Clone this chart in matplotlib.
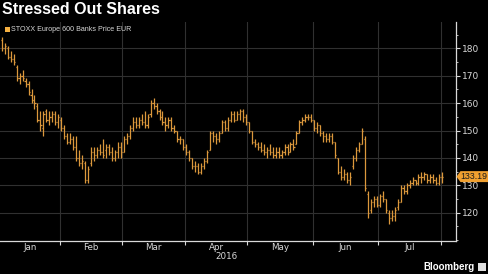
import matplotlib
matplotlib.use('Agg')
import matplotlib.pyplot as plt
import matplotlib.ticker as mticker
import numpy as np
import pandas as pd
from matplotlib.patches import Rectangle, Polygon
from matplotlib.transforms import blended_transform_factory

# ---- data ----
holidays = ['2016-03-25', '2016-03-28']
dates = pd.bdate_range('2016-01-04', '2016-08-01').drop(pd.to_datetime(holidays))

opens = [183,180,180,177,176, 173,169,170,168,167, 163,161,159,154,151, 157,154,155,156,153,
         154,151,148,146,147, 144,140,138,138,132, 138,142,141,143,142, 143,144,142,140,142, 144,
         142,147,148,151, 153,152,154,153,152, 156,160,159,157,155, 153,152,154,151, 150,147,147,
         144, 142,140,137,137,135, 137,139,143,149,148, 147,149,153,151,154, 156,154,156,157,155,
         153,150,146,145,144, 143,142,143,142,141, 142,141,142,144,142, 145,145,149,153,154, 155,155,
         154,151,152, 149,148,147,148,146, 140,135,133,134,132, 137,140,143,145,147, 127,121,124,125,
         123, 126,125,120,118,119, 122,124,129,128,130, 131,132,131,133,133, 134,132,133,132,131,
         133]
highs = [184,182,181,179,178, 174,171,172,169,168, 165,163,160,157,157, 158,157,157,157,156,
         155,152,149,149,148, 148,143,141,139,137, 144,144,144,145,147, 145,145,144,143,146, 146,
         148,149,152,155, 155,155,156,157,156, 161,162,160,158,157, 155,155,155,152, 150,148,147,
         145, 143,140,139,138,138, 140,143,150,150,149, 150,154,154,155,157, 157,157,158,158,156,
         153,150,147,146,146, 145,144,145,144,144, 144,143,145,145,146, 147,150,154,155,156, 156,156,
         154,153,152, 150,149,149,149,146, 140,137,136,135,135, 141,144,146,151,148, 128,125,126,126,
         127, 128,125,121,121,122, 125,130,130,131,132, 133,132,134,135,135, 134,134,134,133,134,
         135]
lows = [179,178,176,175,174, 168,167,168,166,163, 160,158,153,150,148, 153,152,153,152,151,
        150,147,145,145,143, 139,137,136,131,131, 137,139,140,141,140, 140,141,139,139,140, 140,
        142,145,147,150, 151,151,152,151,151, 155,158,156,154,152, 150,151,150,149, 146,145,143,
        141, 139,136,135,134,134, 136,138,143,146,145, 146,149,150,150,153, 153,154,154,153,152,
        149,145,144,143,142, 141,140,141,140,140, 140,140,141,141,142, 143,145,149,152,153, 154,153,
        150,149,148, 146,146,146,145,140, 134,132,132,131,130, 136,139,142,145,128, 118,120,122,122,
        122, 124,120,116,117,117, 121,124,127,127,129, 130,130,130,131,132, 131,131,131,130,130,
        131]
closes = [180,181,177,176,175, 169,170,169,167,164, 161,160,154,152,156, 154,155,156,153,155,
          151,148,146,147,144, 140,138,139,132,136, 142,141,143,142,141, 144,142,140,142,144, 142,
          147,148,151,153, 152,154,153,152,155, 160,159,157,155,153, 152,154,151,150, 147,147,144,
          142, 140,137,137,135,137, 139,142,149,148,147, 149,153,151,154,156, 154,156,157,155,153,
          150,146,145,144,143, 142,143,142,141,142, 141,142,144,142,145, 144,149,153,154,155, 155,154,
          151,152,149, 148,147,148,146,141, 135,133,134,132,133, 140,143,145,150,129, 120,124,125,123,
          126, 125,121,118,119,121, 124,129,128,130,131, 132,131,133,133,134, 132,133,132,131,133,
          133.19]

series_name = 'STOXX Europe 600 Banks Price EUR'
title = 'Stressed Out Shares'
month_labels = ['Jan', 'Feb', 'Mar', 'Apr', 'May', 'Jun', 'Jul']
year_label = '2016'
y_ticks = [120, 130, 140, 150, 160, 170, 180]
last_value = closes[-1]

# ---- styling ----
BG = '#000000'
BAR = '#dc983c'
GRID = '#303030'
TXT = '#d9d9d9'

W, H = 488, 274
fig = plt.figure(figsize=(W / 100, H / 100), dpi=100, facecolor=BG)
ax = fig.add_axes([0, 33 / H, 456 / W, (241 - 22) / H], facecolor=BG)

# trading-day axis (no weekend gaps)
x = np.arange(len(dates))
tick = 0.38
ax.vlines(x, lows, highs, color=BAR, lw=0.9)
ax.hlines(opens, x - tick, x, color=BAR, lw=0.9)
ax.hlines(closes, x, x + tick, color=BAR, lw=0.9)

x0, x1 = -0.59, len(dates) - 1 + 4.6
ax.set_xlim(x0, x1)
ax.set_ylim(109.7, 189.6)

# month boundaries: halfway before first trading day of each month
months = dates.to_period('M')
first_idx = [i for i in range(1, len(dates)) if months[i] != months[i - 1]]
bounds = [i - 0.5 for i in first_idx]
ax.set_xticks(bounds)
ax.set_xticklabels([])
ax.tick_params(axis='x', direction='out', length=3, color=TXT, width=0.8)
edges = [x0] + bounds
lab_tr = blended_transform_factory(ax.transData, ax.transAxes)
for lab, a, b in zip(month_labels, edges[:-1], edges[1:]):
    ax.text((a + b) / 2, -0.03, lab, transform=lab_tr,
            ha='center', va='center', color=TXT, fontsize=6.3)
ax.text((edges[0] + edges[-1]) / 2 + 2, -0.07, year_label, transform=lab_tr,
        ha='center', va='center', color=TXT, fontsize=6.3)

ax.yaxis.tick_right()
ax.set_yticks(y_ticks)
ax.yaxis.set_minor_locator(mticker.MultipleLocator(5))
ax.tick_params(axis='y', direction='out', length=3, color=TXT, labelcolor=TXT,
               labelsize=6.5, pad=1.5, width=0.8)
ax.tick_params(axis='y', which='minor', length=1.5, color=TXT, width=0.6)
ax.grid(True, color=GRID, lw=0.8)
ax.set_axisbelow(True)
for s in ['left', 'top']:
    ax.spines[s].set_visible(False)
for s in ['right', 'bottom']:
    ax.spines[s].set_color(TXT)
    ax.spines[s].set_linewidth(0.9)

# title and legend
fig.text(2 / W, 1 - 10 / H, title, color='white', fontsize=11.5, fontweight='bold',
         family='Liberation Sans', ha='left', va='center')
fig.patches.append(Rectangle((5 / W, 1 - 31.5 / H), 4.5 / W, 4.5 / H, transform=fig.transFigure,
                             facecolor='#f5b041', edgecolor='none'))
fig.text(11 / W, 1 - 29.3 / H, series_name, color=TXT, fontsize=5.1, family='Liberation Sans',
         ha='left', va='center')

# last price tag
tr = blended_transform_factory(fig.transFigure, ax.transData)
hh = 2.0
tag = Polygon([(456.5 / W, last_value), (460.5 / W, last_value + hh), (488 / W, last_value + hh),
               (488 / W, last_value - hh), (460.5 / W, last_value - hh)], closed=True,
              transform=tr, facecolor='#f0a030', edgecolor='none', clip_on=False)
fig.patches.append(tag)
fig.text(473.5 / W, last_value, f'{last_value:.2f}', transform=tr, color='#1a1a1a', fontsize=6.3,
         family='Liberation Sans', ha='center', va='center')

# Bloomberg mark
fig.text(475 / W, 1 - 267 / H, 'Bloomberg', color='white', fontsize=7, fontweight='bold',
         family='Liberation Sans', ha='right', va='center')
fig.patches.append(Rectangle((478 / W, 1 - 270.5 / H), 7.5 / W, 7.5 / H, transform=fig.transFigure,
                             facecolor='#e0e0e0', edgecolor='none'))

fig.savefig('out.png', dpi=100, facecolor=BG)
